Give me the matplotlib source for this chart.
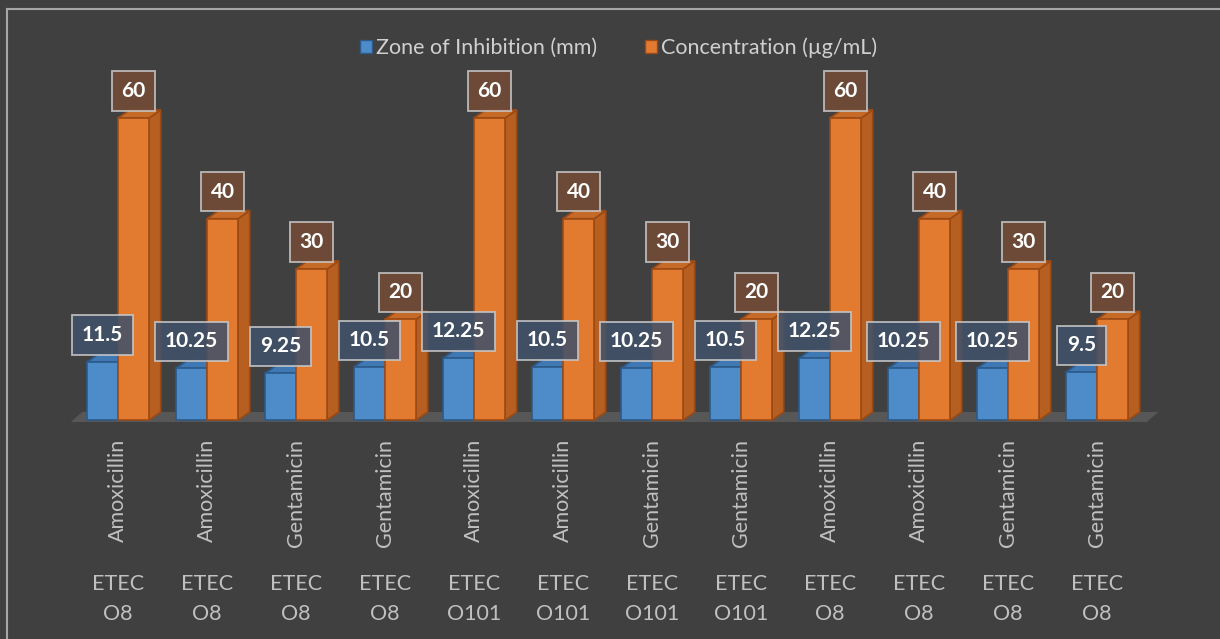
import matplotlib.pyplot as plt
from matplotlib.patches import Polygon, Patch
from matplotlib.lines import Line2D

plt.rcParams['font.family'] = ['Lato', 'DejaVu Sans']

drugs = ['Amoxicillin', 'Amoxicillin', 'Gentamicin', 'Gentamicin'] * 3
strains = ['ETEC\nO8'] * 4 + ['ETEC\nO101'] * 4 + ['ETEC\nO8'] * 4
zone = [11.5, 10.25, 9.25, 10.5, 12.25, 10.5, 10.25, 10.5, 12.25, 10.25, 10.25, 9.5]
conc = [60, 40, 30, 20, 60, 40, 30, 20, 60, 40, 30, 20]

BG = '#404040'
blue = dict(front='#4E8BC9', side='#3A6FA6', top='#3F78B3', edge='#2C5A8A', box='#42526A')
orange = dict(front='#E27A2F', side='#B65F20', top='#C66A28', edge='#9C4A15', box='#734C36')

W = 0.35      # bar width (category units)
DX = 0.13     # 3d depth offset in x
DY = 1.6      # 3d depth offset in y (value units)

fig = plt.figure(figsize=(12.2, 6.39), dpi=100, facecolor=BG)
ax = fig.add_axes([73.5 / 1220, (639 - 420) / 639, 1068 / 1220, 302 / 639])
ax.set_facecolor(BG)
ax.set_xlim(-0.5, 11.5)
ax.set_ylim(0, 60)
ax.axis('off')

n = len(zone)

# floor
ax.add_patch(Polygon([(-0.53, -0.4), (11.56, -0.4), (11.56 + DX, -0.4 + DY + 0.4),
                      (-0.53 + DX, -0.4 + DY + 0.4)], closed=True,
                     facecolor='#575757', edgecolor='none', clip_on=False, zorder=1))


def draw_bars(x0s, vals, c, z):
    for x0, v in zip(x0s, vals):
        x1 = x0 + W
        side = [(x1, 0), (x1 + DX, DY), (x1 + DX, v + DY), (x1, v)]
        top = [(x0, v), (x0 + DX, v + DY), (x1 + DX, v + DY), (x1, v)]
        ax.add_patch(Polygon(side, closed=True, facecolor=c['side'], edgecolor=c['edge'],
                             lw=1.2, clip_on=False, zorder=z))
        ax.add_patch(Polygon(top, closed=True, facecolor=c['top'], edgecolor=c['edge'],
                             lw=1.2, clip_on=False, zorder=z))
    ax.bar(x0s, vals, width=W, align='edge', color=c['front'], edgecolor=c['edge'],
           linewidth=1.2, clip_on=False, zorder=z + 0.5)


xs = list(range(n))
draw_bars([i - W for i in xs], zone, blue, 2)
draw_bars([i for i in xs], conc, orange, 3)


# data labels
def labels(xc, vals, c):
    for x, v in zip(xc, vals):
        ax.annotate(f'{v:g}', xy=(x, v + DY), xytext=(0, 9), textcoords='offset pixels',
                    ha='center', va='bottom', fontsize=15, fontweight='bold', color='white',
                    bbox=dict(boxstyle='square,pad=0.46', facecolor=c['box'], alpha=0.88,
                              edgecolor='#C8C8C8', linewidth=1.3),
                    annotation_clip=False, zorder=10)


labels([i - W / 2 for i in xs], zone, blue)
labels([i + W / 2 for i in xs], conc, orange)

# category labels
for i in xs:
    ax.text(i, -3.8, drugs[i], rotation=90, ha='center', va='top', fontsize=15.5,
            color='#C0C0C0', clip_on=False)
    ax.text(i, -35.6, strains[i], ha='center', va='center', fontsize=15.5,
            color='#C0C0C0', linespacing=1.65, clip_on=False)

# legend
handles = [Patch(facecolor=blue['front'], edgecolor=blue['edge']),
           Patch(facecolor=orange['front'], edgecolor=orange['edge'])]
fig.legend(handles, ['Zone of Inhibition (mm)', 'Concentration (µg/mL)'],
           loc='center', bbox_to_anchor=(0.507, 1 - 48 / 639), ncol=2, frameon=False,
           fontsize=15.5, labelcolor='#D0D0D0', handlelength=0.55, handleheight=0.55,
           handletextpad=0.2, columnspacing=2.2)

# chart border (top and left visible)
fig.add_artist(Line2D([7 / 1220, 7 / 1220], [0, 1 - 9 / 639], transform=fig.transFigure,
                      color='#A6A6A6', lw=1.5))
fig.add_artist(Line2D([7 / 1220, 1], [1 - 9 / 639, 1 - 9 / 639], transform=fig.transFigure,
                      color='#A6A6A6', lw=1.5))

fig.savefig('out.png', dpi=100, facecolor=BG)
